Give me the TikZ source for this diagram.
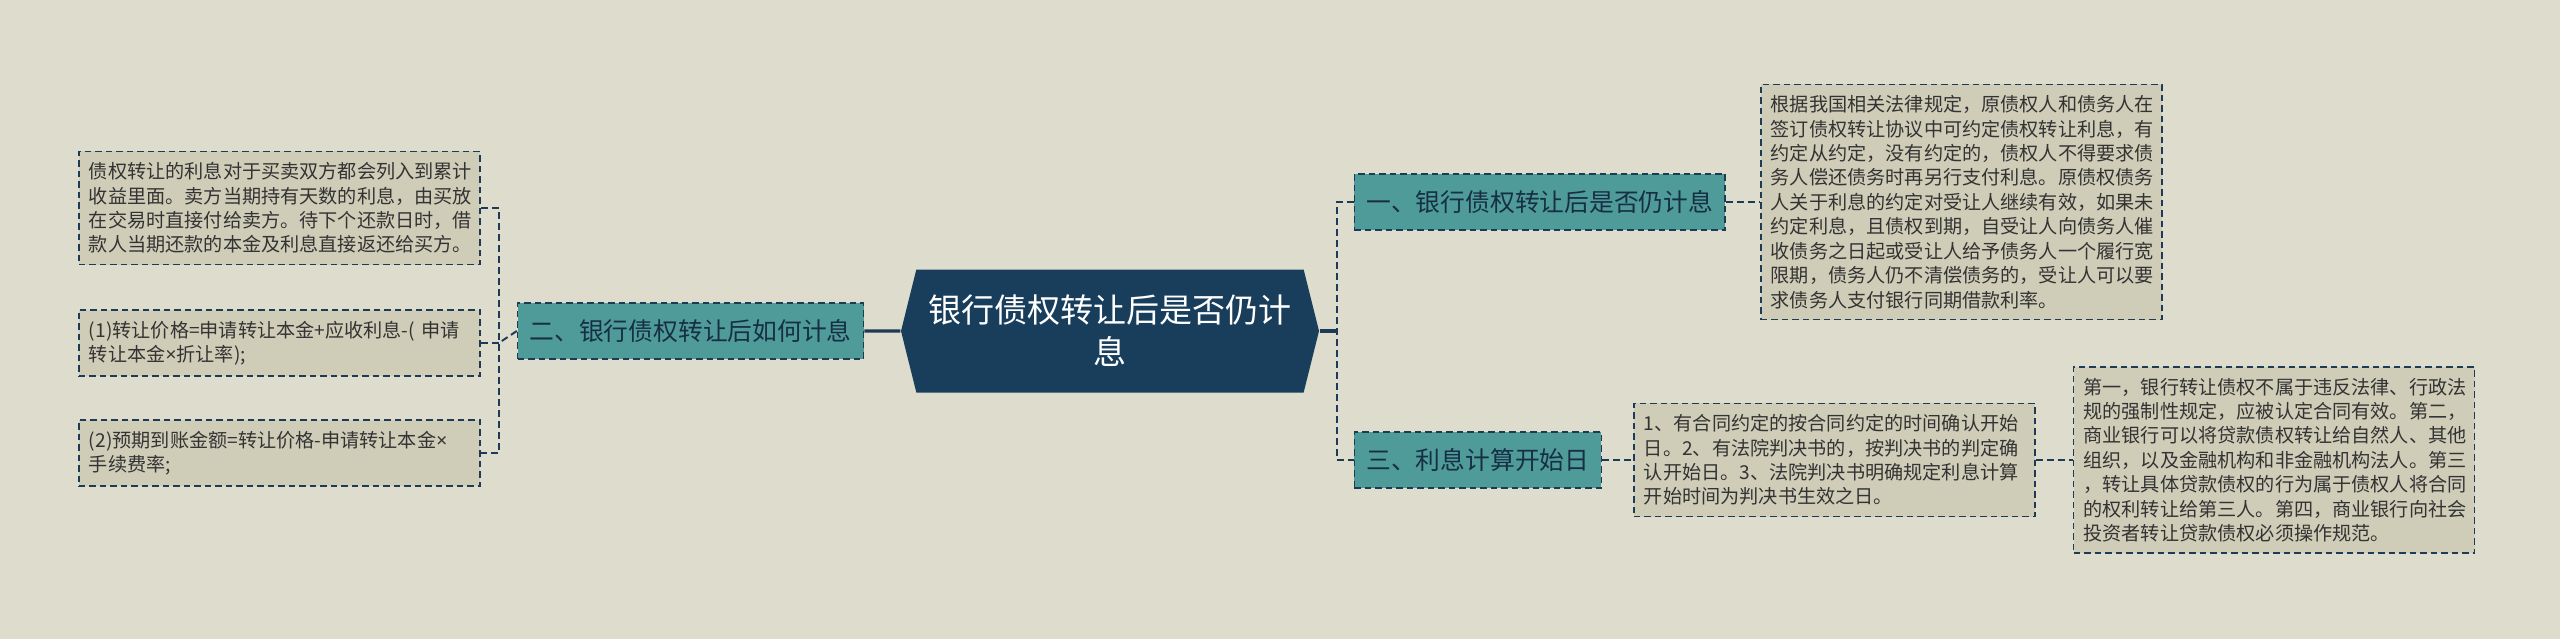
\documentclass[tikz,border=0pt]{standalone}
\usepackage{fontspec}
\setmainfont{Noto Sans CJK SC}
\newfontfamily\latinfont{Noto Sans}
\newcommand{\timesign}{{\latinfont ×}}
\usetikzlibrary{positioning,shapes.symbols}

\definecolor{paper}{HTML}{DEDCCD}
\definecolor{leaffill}{HTML}{CFCDB8}
\definecolor{branchfill}{HTML}{4F9B9A}
\definecolor{rootfill}{HTML}{183E5C}
\definecolor{linkcol}{HTML}{1D3B55}
\definecolor{inkcol}{HTML}{333333}

\begin{document}
\begin{tikzpicture}[
    node distance = 0.7cm, % gap between boxes
    twig/.style = {linkcol, line width=1.1pt, dash pattern=on 0.14cm off 0.08cm}, % dashed links
    trunk/.style = {linkcol, line width=1.8pt}, % solid links at the root
    semithick % line style
    ]

    \tikzset{
    leaf/.style = {draw=linkcol, line width=0.9pt, dash pattern=on 0.13cm off 0.08cm,
        fill=leaffill, text=inkcol, text width=7.62cm, align=left,
        inner xsep=0.2cm, inner ysep=0.22cm,
        font=\fontsize{10.9pt}{13.9pt}\selectfont},
    branch/.style = {draw=linkcol, line width=0.9pt, dash pattern=on 0.13cm off 0.08cm,
        fill=branchfill, text=linkcol!80!black, inner xsep=0.24cm,
        minimum height=1.12cm, font=\fontsize{14.1pt}{17pt}\selectfont},
    root/.style = {signal, signal to=west and east, signal pointer angle=152,
        fill=rootfill, text=white, align=center, text width=7.3cm,
        minimum width=8.36cm, minimum height=2.46cm, inner sep=0pt,
        font=\fontsize{18.8pt}{23.9pt}\selectfont}
    }

    \fill[paper] (0,0) rectangle (51.2,-12.78);
    \useasboundingbox (0,0) rectangle (51.2,-12.78);

    \node[root] (c) at (22.2,-6.62) {银行债权转让后是否仍计\\息};
    \node[branch] (b2) [left=0.72cm of c] {二、银行债权转让后如何计息};
    \node[branch] (b1) [right=0.68cm of c, yshift=2.58cm] {一、银行债权转让后是否仍计息};
    \node[branch] (b3) [right=0.68cm of c, yshift=-2.58cm] {三、利息计算开始日};

    \node[leaf] (l1) [left=0.72cm of b2, yshift=2.46cm] {债权转让的利息对于买卖双方都会列入到累计\\收益里面。卖方当期持有天数的利息，由买放\\在交易时直接付给卖方。待下个还款日时，借\\款人当期还款的本金及利息直接返还给买方。};
    \node[leaf] (l2) [left=0.72cm of b2, yshift=-0.24cm] {(1)转让价格=申请转让本金+应收利息-( 申请\\转让本金\timesign 折让率);};
    \node[leaf] (l3) [left=0.72cm of b2, yshift=-2.44cm] {(2)预期到账金额=转让价格-申请转让本金\timesign\\手续费率;};

    \node[leaf] (r1) [right=0.68cm of b1] {根据我国相关法律规定，原债权人和债务人在\\签订债权转让协议中可约定债权转让利息，有\\约定从约定，没有约定的，债权人不得要求债\\务人偿还债务时再另行支付利息。原债权债务\\人关于利息的约定对受让人继续有效，如果未\\约定利息，且债权到期，自受让人向债务人催\\收债务之日起或受让人给予债务人一个履行宽\\限期，债务人仍不清偿债务的，受让人可以要\\求债务人支付银行同期借款利率。};
    \node[leaf] (r3a) [right=0.62cm of b3] {1、有合同约定的按合同约定的时间确认开始\\日。2、有法院判决书的，按判决书的判定确\\认开始日。3、法院判决书明确规定利息计算\\开始时间为判决书生效之日。};
    \node[leaf] (r3b) [right=0.74cm of r3a] {第一，银行转让债权不属于违反法律、行政法\\规的强制性规定，应被认定合同有效。第二，\\商业银行可以将贷款债权转让给自然人、其他\\组织，以及金融机构和非金融机构法人。第三\\，转让具体贷款债权的行为属于债权人将合同\\的权利转让给第三人。第四，商业银行向社会\\投资者转让贷款债权必须操作规范。};

    % root to its branches
    \path[trunk] (c) edge (b2);
    \draw[trunk] (c.east) -- ++(0.36cm,0) coordinate (rbus);
    \draw[twig] (b1.west) -- ++(-0.34cm,0) |- (b3.west);

    % left leaves
    \draw[twig] (l1.east) -- ++(0.36cm,0) |- (l3.east);
    \draw[twig] (l2.east) -- ++(0.36cm,0) coordinate (lbus);
    \draw[twig] (b2.west) -- (lbus);

    % right leaves
    \path[twig] (b1) edge (r1);
    \path[twig] (b3) edge (r3a);
    \path[twig] (r3a) edge (r3b);
\end{tikzpicture}
\end{document}
